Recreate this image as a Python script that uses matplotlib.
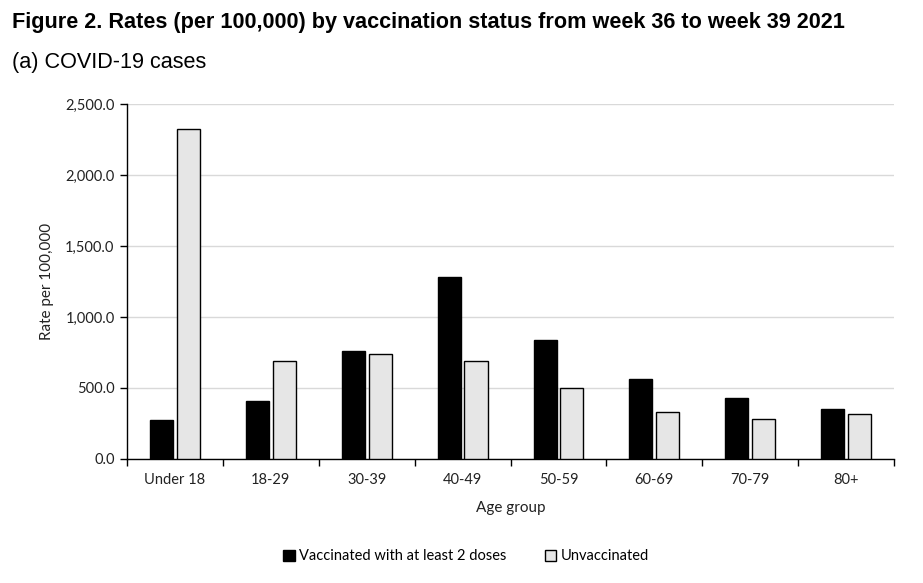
import numpy as np
import matplotlib.pyplot as plt
from matplotlib.ticker import FuncFormatter, FixedLocator
from matplotlib.patches import Patch

age_groups = ['Under 18', '18-29', '30-39', '40-49', '50-59', '60-69', '70-79', '80+']
vaccinated = [275, 408, 760, 1284, 838, 563, 430, 352]
unvaccinated = [2322, 690, 737, 690, 498, 329, 280, 315]
y_ticks = [0, 500, 1000, 1500, 2000, 2500]

label_font = 'Lato'

fig = plt.figure(figsize=(9.23, 5.83), dpi=100)
ax = fig.add_axes([0.1376, 0.2127, 0.831, 0.609])

x = np.arange(len(age_groups))
w = 0.24
ax.bar(x - 0.14, vaccinated, w, color='black', edgecolor='black', linewidth=1, zorder=3)
ax.bar(x + 0.14, unvaccinated, w, color='#e6e6e6', edgecolor='black', linewidth=1, zorder=3)

ax.set_xlim(-0.5, len(age_groups) - 0.5)
ax.set_ylim(0, 2500)
ax.set_yticks(y_ticks)
ax.yaxis.set_major_formatter(FuncFormatter(lambda v, p: f'{v:,.1f}'))
ax.grid(axis='y', color='#d9d9d9', linewidth=1, zorder=0)

ax.set_xticks(x)
ax.set_xticklabels(age_groups)
ax.tick_params(axis='x', which='major', length=0, pad=10)
ax.xaxis.set_minor_locator(FixedLocator(np.arange(-0.5, len(age_groups), 1.0)))
ax.tick_params(axis='x', which='minor', length=5, width=1, direction='out')
ax.tick_params(axis='y', length=5, width=1, direction='out', pad=4)

for lab in ax.get_xticklabels() + ax.get_yticklabels():
    lab.set_fontfamily(label_font)
    lab.set_fontsize(10.5)
    lab.set_color('#222222')

for s in ['top', 'right']:
    ax.spines[s].set_visible(False)
for s in ['left', 'bottom']:
    ax.spines[s].set_linewidth(1)

ax.set_ylabel('Rate per 100,000', fontfamily=label_font, fontsize=11, color='#222222', labelpad=8)
ax.set_xlabel('Age group', fontfamily=label_font, fontsize=11, color='#222222', labelpad=10)

handles = [Patch(facecolor='black', edgecolor='black', label='Vaccinated with at least 2 doses'),
           Patch(facecolor='#e6e6e6', edgecolor='black', label='Unvaccinated')]
fig.legend(handles=handles, loc='center', bbox_to_anchor=(0.505, 0.046), ncol=2, frameon=False,
           prop={'family': label_font, 'size': 10.5}, handlelength=0.8, handleheight=0.8,
           handletextpad=0.3, columnspacing=2.6)

fig.text(0.013, 0.961, 'Figure 2. Rates (per 100,000) by vaccination status from week 36 to week 39 2021',
         fontfamily='Liberation Sans', fontweight='bold', fontsize=15.6, va='center')
fig.text(0.013, 0.893, '(a) COVID-19 cases', fontfamily='Liberation Sans', fontsize=15.6, va='center')

fig.savefig('out.png', dpi=100)
